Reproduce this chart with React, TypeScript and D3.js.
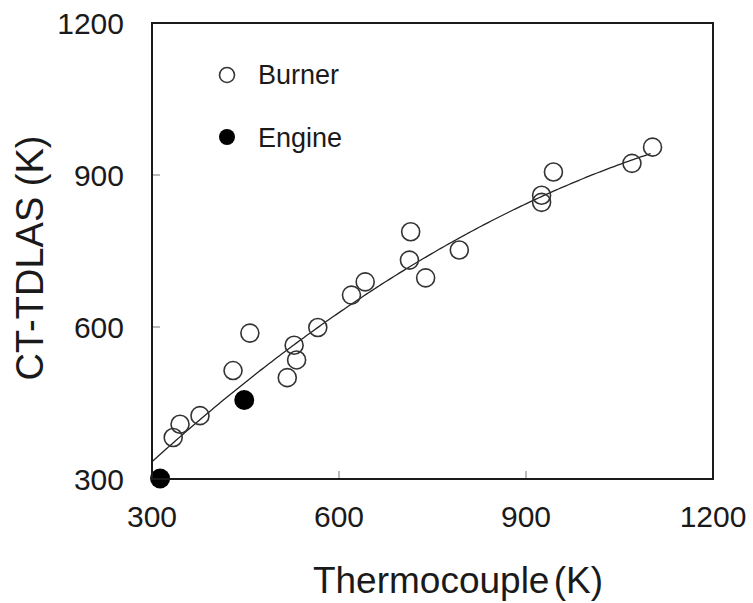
import React from "react";
import * as d3 from "d3";

const burnerX = [334, 345, 377, 430, 457, 517, 532, 528, 566, 620, 642, 715, 713, 739, 793, 925, 925, 944, 1070, 1103];
const burnerY = [382, 408, 425, 514, 588, 500, 535, 564, 599, 663, 689, 788, 732, 697, 752, 860, 846, 906, 923, 955];
const engineX = [313, 448];
const engineY = [301, 456];
const xTicks = [300, 600, 900, 1200];
const yTicks = [300, 600, 900, 1200];
// quadratic trend-line coefficients (a + b x + c x^2) and its x-extent
const fitCoef = [-39.9, 1.379, -0.000442];
const fitRange = [300, 1102];

const W = 753, H = 603;
const L = 152, R = 713, T = 23, B = 479;

export default function App() {
  const x = d3.scaleLinear().domain([300, 1200]).range([L, R]);
  const y = d3.scaleLinear().domain([300, 1200]).range([B, T]);
  const fit = (v: number) => fitCoef[0] + fitCoef[1] * v + fitCoef[2] * v * v;
  const fitXs = d3.range(fitRange[0], fitRange[1] + 1, 4);
  const line = d3.line<number>().x((v) => x(v)).y((v) => y(fit(v)));
  const font = "'Liberation Sans', Arial, sans-serif";
  const txt = "#1a1a1a";
  return (
    <svg width={W} height={H} style={{ position: "absolute", left: 0, top: 0 }} fontFamily={font}>
      <rect width={W} height={H} fill="#fff" />
      {/* ticks */}
      {xTicks.slice(1, -1).map((t) => (
        <line key={"xt" + t} x1={x(t)} x2={x(t)} y1={B} y2={B - 8} stroke="#777" strokeWidth={1} />
      ))}
      {yTicks.slice(1, -1).map((t) => (
        <line key={"yt" + t} x1={L} x2={L + 8} y1={y(t)} y2={y(t)} stroke="#777" strokeWidth={1} />
      ))}
      {/* fit line */}
      <path d={line(fitXs) || ""} fill="none" stroke="#222" strokeWidth={1.3} />
      {/* burner */}
      {burnerX.map((v, i) => (
        <circle key={"b" + i} cx={x(v)} cy={y(burnerY[i])} r={9} fill="none" stroke="#333" strokeWidth={1.6} />
      ))}
      {/* engine */}
      {engineX.map((v, i) => (
        <circle key={"e" + i} cx={x(v)} cy={y(engineY[i])} r={10} fill="#000" />
      ))}
      {/* frame */}
      <rect x={L} y={T} width={R - L} height={B - T} fill="none" stroke="#1a1a1a" strokeWidth={2} />
      {/* tick labels */}
      {xTicks.map((t) => (
        <text key={"xl" + t} x={x(t)} y={527} fontSize={30} textAnchor="middle" fill={txt}>{t}</text>
      ))}
      {yTicks.map((t) => (
        <text key={"yl" + t} x={124} y={y(t) + 10.5} fontSize={30} textAnchor="end" fill={txt}>{t}</text>
      ))}
      {/* axis titles */}
      <text x={458} y={593} fontSize={37} textAnchor="middle" fill={txt} wordSpacing={-6}>Thermocouple (K)</text>
      <text transform={`translate(43,258) rotate(-90)`} fontSize={38} textAnchor="middle" fill={txt}>CT-TDLAS (K)</text>
      {/* legend */}
      <circle cx={227} cy={75} r={7.5} fill="none" stroke="#333" strokeWidth={1.6} />
      <text x={258} y={84} fontSize={27} fill={txt}>Burner</text>
      <circle cx={227} cy={137} r={8} fill="#000" />
      <text x={258} y={146.5} fontSize={27} fill={txt}>Engine</text>
    </svg>
  );
}
